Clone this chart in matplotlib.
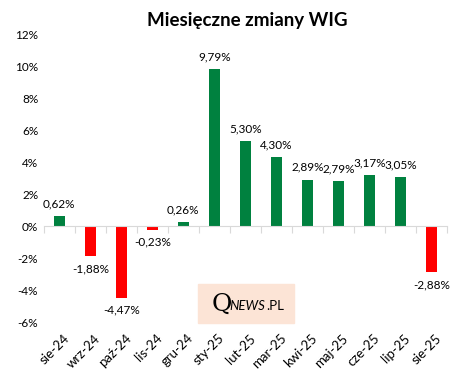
import matplotlib.pyplot as plt
import matplotlib.transforms as mtransforms

months = ['sie-24', 'wrz-24', 'paź-24', 'lis-24', 'gru-24', 'sty-25', 'lut-25',
          'mar-25', 'kwi-25', 'maj-25', 'cze-25', 'lip-25', 'sie-25']
changes = [0.62, -1.88, -4.47, -0.23, 0.26, 9.79, 5.30, 4.30, 2.89, 2.79, 3.17, 3.05, -2.88]
y_ticks = [-6, -4, -2, 0, 2, 4, 6, 8, 10, 12]

GREEN = '#00813f'
RED = '#ff0000'
plt.rcParams['font.family'] = ['Lato', 'DejaVu Sans']

fig = plt.figure(figsize=(4.66, 3.78), dpi=100)
ax = fig.add_axes([0.094, 0.148, 0.865, 0.762])

x = list(range(len(months)))
colors = [GREEN if v >= 0 else RED for v in changes]
ax.bar(x, changes, width=0.36, color=colors, zorder=2)

for i, v in enumerate(changes):
    lab = f'{v:.2f}%'.replace('.', ',')
    if v >= 0:
        ax.annotate(lab, (i, v), xytext=(0, 5), textcoords='offset points',
                    ha='center', va='bottom', fontsize=8.5)
    else:
        ax.annotate(lab, (i, v), xytext=(0, -5), textcoords='offset points',
                    ha='center', va='top', fontsize=8.5)

ax.set_xlim(-0.5, len(months) - 0.5)
ax.set_ylim(-6, 12)
ax.set_yticks(y_ticks)
ax.set_yticklabels([f'{t}%' for t in y_ticks], fontsize=8.5)
ax.tick_params(axis='y', length=0, pad=4)

# os X na poziomie zera, kreski między kategoriami
for s in ['left', 'right', 'top']:
    ax.spines[s].set_visible(False)
ax.spines['bottom'].set_position(('data', 0))
ax.spines['bottom'].set_color('#d9d9d9')
ax.set_xticks([i - 0.5 for i in range(len(months) + 1)])
ax.set_xticklabels([])
ax.tick_params(axis='x', length=5, color='#d9d9d9', direction='out')

trans = mtransforms.blended_transform_factory(ax.transData, ax.transAxes)
for i, m in enumerate(months):
    ax.text(i + 0.12, -0.035, m, transform=trans, rotation=45, ha='right', va='top',
            rotation_mode='anchor', fontsize=9.5)

fig.text(0.53, 0.945, 'Miesięczne zmiany WIG', ha='center', va='center',
         fontsize=13.5, fontweight='bold')

# znak wodny
fig.patches.append(plt.Rectangle((198 / 466, 1 - 323 / 378), 96 / 466, 39 / 378,
                                 transform=fig.transFigure, color='#fce4d6', zorder=0))
fig.text(0.455, 1 - 304 / 378, 'Q', fontsize=18, family='DejaVu Serif', ha='left', va='center')
fig.text(0.493, 1 - 306 / 378, 'NEWS', fontsize=9.5, style='italic', ha='left', va='center')
fig.text(0.572, 1 - 306 / 378, '.PL', fontsize=9.5, ha='left', va='center')

fig.savefig('out.png', dpi=100)
